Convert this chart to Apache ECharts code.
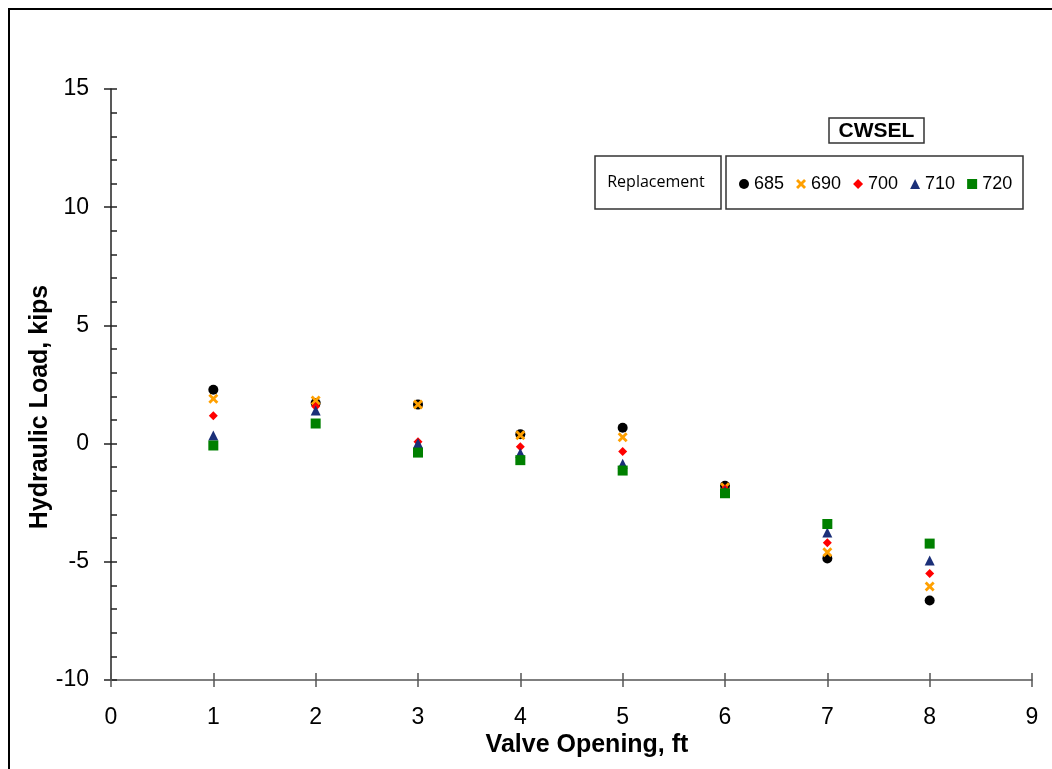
<!DOCTYPE html>
<html>
<head>
<meta charset="utf-8">
<script src="https://cdn.jsdelivr.net/npm/echarts@6/dist/echarts.min.js"></script>
<style>
    html, body { margin: 0; padding: 0; background: #fff; }
    #chart { width: 1052px; height: 769px; }
</style>
</head>
<body>
<div id="chart"></div>
<script>
// valve opening (ft)
const openings = [1, 2, 3, 4, 5, 6, 7, 8];
// hydraulic load (kips) per CWSEL
const load685 = [2.28, 1.72, 1.65, 0.4, 0.67, -1.78, -4.86, -6.64];
const load690 = [1.9, 1.82, 1.65, 0.35, 0.27, -1.85, -4.6, -6.05];
const load700 = [1.18, 1.57, 0.08, -0.13, -0.33, -1.92, -4.19, -5.5];
const load710 = [0.34, 1.4, 0.02, -0.4, -0.85, -2.0, -3.76, -4.95];
const load720 = [-0.08, 0.85, -0.38, -0.7, -1.14, -2.1, -3.4, -4.23];
const seriesNames = ["685", "690", "700", "710", "720"];

const chart = echarts.init(document.getElementById("chart"));

const xMark = "path://M0,2 L2,0 L5,3 L8,0 L10,2 L7,5 L10,8 L8,10 L5,7 L2,10 L0,8 L3,5 Z";
const font = "'Liberation Sans', Arial, sans-serif";

function pts(arr) {
    return openings.map((x, i) => [x, arr[i]]);
}

function scatter(name, data, symbol, size, color) {
    return {
        name: name,
        type: "scatter",
        symbol: symbol,
        symbolSize: size,
        itemStyle: { color: color, opacity: 1 },
        data: pts(data),
    };
}

chart.setOption({
    backgroundColor: "#fff",
    animation: false,
    textStyle: { fontFamily: font },
    grid: { left: 111, right: 20, top: 89, bottom: 89 },
    legend: {
        data: seriesNames,
        left: 739,
        top: 175,
        padding: 0,
        itemWidth: 10,
        itemHeight: 10,
        itemGap: 12,
        textStyle: { fontSize: 18, color: "#000", fontFamily: font },
    },
    xAxis: [
        {
            type: "value",
            min: 0,
            max: 9,
            interval: 1,
            axisLine: { onZero: false, lineStyle: { color: "#555", width: 1.5 } },
            axisTick: { length: 7, lineStyle: { color: "#555", width: 1.5 } },
            axisLabel: { fontSize: 23, color: "#000", margin: 26 },
            splitLine: { show: false },
        },
        {
            type: "value",
            position: "bottom",
            min: 0,
            max: 9,
            interval: 1,
            axisLine: { show: false, onZero: false },
            axisTick: { inside: true, length: 7, lineStyle: { color: "#555", width: 1.5 } },
            axisLabel: { show: false },
            splitLine: { show: false },
        },
    ],
    yAxis: [
        {
            type: "value",
            min: -10,
            max: 15,
            interval: 5,
            axisLine: { show: true, onZero: false, lineStyle: { color: "#222", width: 1.5 } },
            axisTick: { show: true, length: 7, lineStyle: { color: "#222", width: 1.5 } },
            axisLabel: { fontSize: 23, color: "#000", margin: 22 },
            splitLine: { show: false },
        },
        {
            type: "value",
            position: "left",
            min: -10,
            max: 15,
            interval: 1,
            axisLine: { show: false, onZero: false },
            axisTick: { show: true, inside: true, length: 6, lineStyle: { color: "#222", width: 1.5 } },
            axisLabel: { show: false },
            splitLine: { show: false },
        },
    ],
    graphic: [
        { type: "line", shape: { x1: 9, y1: 9, x2: 1052, y2: 9 }, style: { stroke: "#000", lineWidth: 2 } },
        { type: "line", shape: { x1: 9, y1: 8, x2: 9, y2: 769 }, style: { stroke: "#000", lineWidth: 2 } },
        // axis titles
        { type: "text", x: 587, y: 745, style: { text: "Valve Opening, ft", font: "bold 25px " + font, fill: "#000", textAlign: "center", textVerticalAlign: "middle" } },
        { type: "text", x: 40, y: 407, rotation: Math.PI / 2, style: { text: "Hydraulic Load, kips", font: "bold 25px " + font, fill: "#000", textAlign: "center", textVerticalAlign: "middle" } },
        // legend frames
        { type: "rect", shape: { x: 829, y: 118, width: 95, height: 25 }, style: { fill: "#fff", stroke: "#333", lineWidth: 1.5 } },
        { type: "text", x: 876.5, y: 131, style: { text: "CWSEL", font: "bold 21px " + font, fill: "#000", textAlign: "center", textVerticalAlign: "middle" } },
        { type: "rect", shape: { x: 595, y: 156, width: 126, height: 53 }, style: { fill: "#fff", stroke: "#333", lineWidth: 1.5 } },
        { type: "text", x: 656, y: 182, style: { text: "Replacement", font: "16px 'Open Sans', sans-serif", fill: "#000", textAlign: "center", textVerticalAlign: "middle" } },
        { type: "rect", z: -1, shape: { x: 726, y: 156, width: 297, height: 53 }, style: { fill: "#fff", stroke: "#333", lineWidth: 1.5 } },
    ],
    series: [
        scatter("685", load685, "circle", 10, "#000"),
        scatter("690", load690, xMark, 10, "#FFA000"),
        scatter("700", load700, "diamond", 9, "#FF0000"),
        scatter("710", load710, "triangle", 10, "#1B2F78"),
        scatter("720", load720, "rect", 10, "#008000"),
    ],
});
</script>
</body>
</html>
